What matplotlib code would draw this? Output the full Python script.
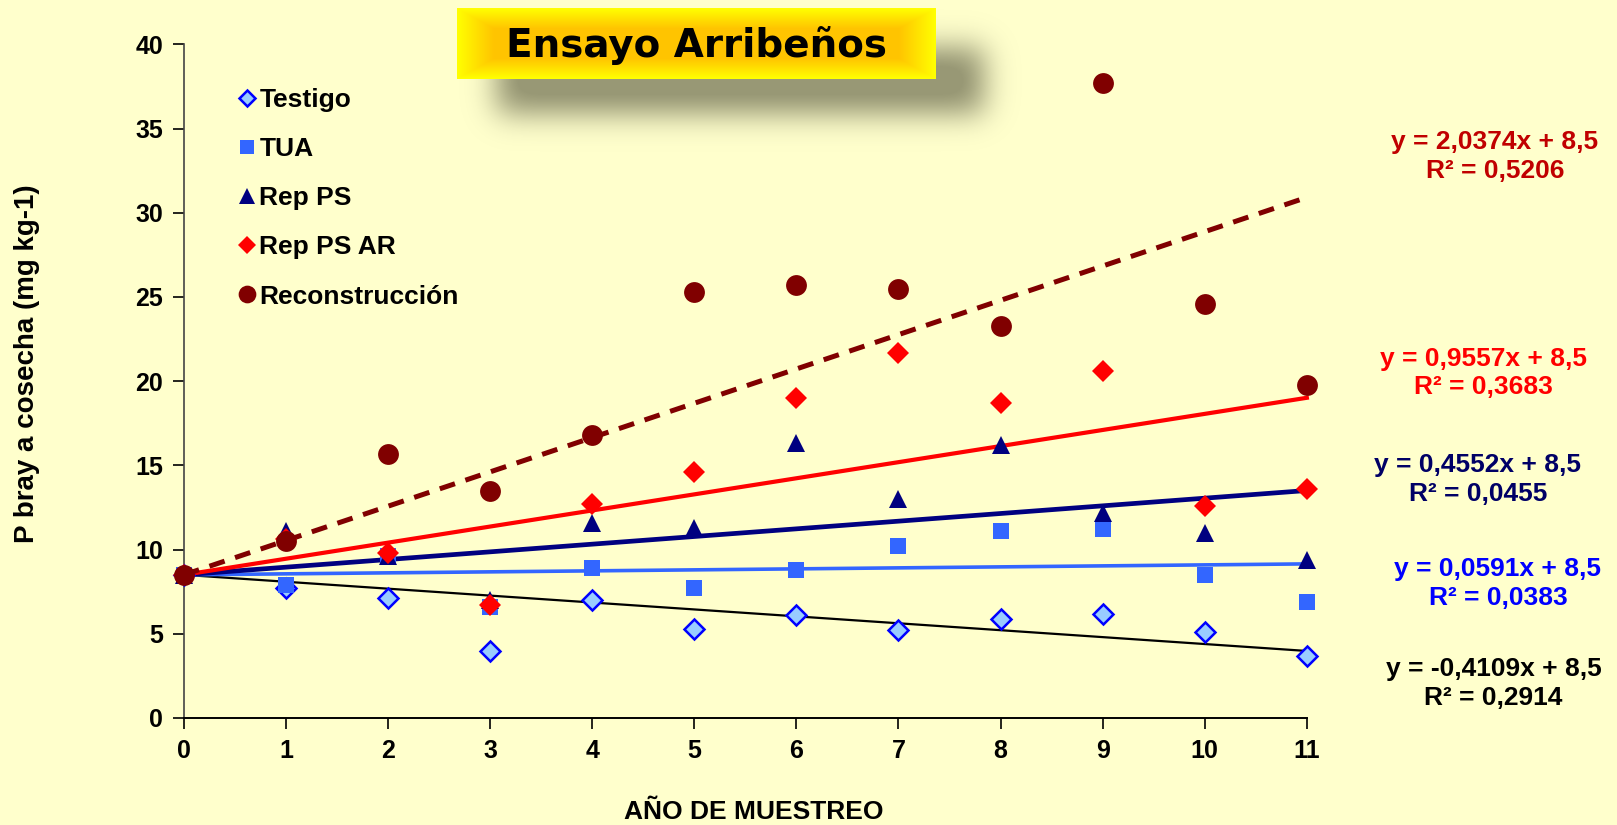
import numpy as np
import matplotlib
matplotlib.use("Agg")
import matplotlib.pyplot as plt
from matplotlib.lines import Line2D

plt.rcParams['font.family'] = ['Liberation Sans', 'DejaVu Sans']
plt.rcParams['font.weight'] = 'bold'

BG = '#FFFFCC'

# años de muestreo
anios = list(range(12))

# P bray a cosecha (mg kg-1) por tratamiento
testigo = [8.5, 7.7, 7.1, 4.0, 7.0, 5.3, 6.1, 5.2, 5.9, 6.2, 5.1, 3.7]
tua = [8.5, 7.9, 9.6, 6.6, 8.9, 7.7, 8.8, 10.2, 11.1, 11.2, 8.5, 6.9]
rep_ps = [8.5, 11.1, 9.6, 7.0, 11.6, 11.3, 16.3, 13.0, 16.2, 12.2, 11.0, 9.4]
rep_ps_ar = [8.5, 10.6, 9.8, 6.7, 12.7, 14.6, 19.0, 21.7, 18.7, 20.6, 12.6, 13.6]
reconstruccion = [8.5, 10.5, 15.7, 13.5, 16.8, 25.3, 25.7, 25.5, 23.3, 37.7, 24.6, 19.8]

# tendencias lineales (ordenada fija en 8,5)
pendientes = [-0.4109, 0.0591, 0.4552, 0.9557, 2.0374]
r2 = [0.2914, 0.0383, 0.0455, 0.3683, 0.5206]
ordenada = 8.5

nombres = ['Testigo', 'TUA', 'Rep PS', 'Rep PS AR', 'Reconstrucción']
series = [testigo, tua, rep_ps, rep_ps_ar, reconstruccion]

# estilos de cada serie: marcador, tamaño, relleno, borde
marcadores = [('D', 10, '#99CCFF', '#0000FF', 1.8),
              ('s', 12, '#3366FF', '#3366FF', 0),
              ('^', 13, '#000080', '#000080', 0),
              ('D', 11, '#FF0000', '#FF0000', 0),
              ('o', 15, '#800000', '#800000', 0)]
lineas = [('#000000', 1.6, '-'),
          ('#3366FF', 2.6, '-'),
          ('#000080', 3.4, '-'),
          ('#FF0000', 3.0, '-'),
          ('#800000', 3.6, (0, (3.2, 2.2)))]
color_eq = ['#000000', '#0000FF', '#000066', '#FF0000', '#C00000']
pos_eq = [(0.9236, 0.1715), (0.9264, 0.2927), (0.914, 0.4188), (0.9174, 0.548), (0.9245, 0.810)]

fig = plt.figure(figsize=(16.17, 8.25), dpi=100, facecolor=BG)
ax = fig.add_axes([0.1137, 0.1297, 0.6945, 0.8166])
ax.set_facecolor(BG)

x = np.array(anios)
for (c, lw, ls), m in zip(lineas, pendientes):
    ax.plot([x[0], x[-1]], [ordenada, ordenada + m * x[-1]], color=c, lw=lw,
            ls=ls, zorder=2, clip_on=False)

for y, (mk, ms, fc, ec, mew) in zip(series, marcadores):
    ax.plot(x, y, ls='none', marker=mk, ms=ms, mfc=fc, mec=ec, mew=mew,
            zorder=3, clip_on=False)

ax.set_xlim(0, 11)
ax.set_ylim(0, 40)
ax.set_xticks(range(12))
ax.set_yticks(range(0, 41, 5))
ax.tick_params(direction='out', length=8, width=1.2, labelsize=18, pad=7)
ax.spines['top'].set_visible(False)
ax.spines['right'].set_visible(False)
ax.spines['left'].set_color('#444444')
ax.spines['left'].set_linewidth(1.2)
ax.spines['bottom'].set_linewidth(1.4)
for t in ax.get_xticklabels() + ax.get_yticklabels():
    t.set_fontweight('bold')

fig.text(0.466, 0.016, 'AÑO DE MUESTREO', ha='center', va='center', fontsize=19, fontweight='bold')
fig.text(0.017, 0.559, 'P bray a cosecha (mg kg-1)', ha='center', va='center',
         rotation=90, fontsize=20, fontweight='bold')

# leyenda
handles = [Line2D([], [], ls='none', marker=mk, ms=ms * 0.85, mfc=fc, mec=ec, mew=mew)
           for mk, ms, fc, ec, mew in marcadores]
ax.legend(handles, nombres, loc='upper left', bbox_to_anchor=(0.14, 0.909),
          bbox_transform=fig.transFigure, frameon=False, fontsize=19,
          handlelength=0.6, handletextpad=0.15, labelspacing=0.95, borderpad=0)
for t in ax.get_legend().get_texts():
    t.set_fontweight('bold')

# ecuaciones de las tendencias
for m, r, c, (px, py) in zip(pendientes, r2, color_eq, pos_eq):
    eq = f'y = {m:.4f}x + 8,5'.replace('.', ',', 1)
    rr = f'R² = {r:.4f}'.replace('.', ',')
    fig.text(px, py, eq + '\n' + rr, ha='center', va='center', color=c,
             fontsize=19, fontweight='bold', linespacing=1.25)

# recuadro del título con sombra difusa
W, H = 1617, 825
x0, x1, y0, y1 = 457, 935, 8, 79
sh = np.zeros((H, W))
sh[y0 + 40:y1 + 34, x0 + 40:x1 + 48] = 1.0
k = np.exp(-0.5 * (np.arange(-45, 46) / 15.0) ** 2)
k /= k.sum()
sh = np.apply_along_axis(lambda v: np.convolve(v, k, mode='same'), 0, sh)
sh = np.apply_along_axis(lambda v: np.convolve(v, k, mode='same'), 1, sh)
rgba = np.zeros((H, W, 4))
rgba[..., :3] = np.array([0.55, 0.55, 0.42])
rgba[..., 3] = np.clip(sh * 1.0, 0, 0.9)
axs = fig.add_axes([0, 0, 1, 1], zorder=4)
axs.imshow(rgba, extent=(0, W, H, 0), aspect='auto', interpolation='bilinear')
axs.set_xlim(0, W)
axs.set_ylim(H, 0)
axs.axis('off')

bw, bh = x1 - x0, y1 - y0
yy, xx = np.mgrid[0:bh, 0:bw]
d = np.minimum(np.minimum(xx, bw - 1 - xx) * 0.55, np.minimum(yy, bh - 1 - yy))
t = np.clip(d / 20.0, 0, 1)
amarillo = np.array([1.0, 1.0, 0.0])
oro = np.array([1.0, 0.77, 0.0])
box = amarillo[None, None, :] * (1 - t[..., None]) + oro[None, None, :] * t[..., None]
axs.imshow(box, extent=(x0, x1, y1, y0), aspect='auto', interpolation='bilinear', zorder=5)
axs.text((x0 + x1) / 2, (y0 + y1) / 2 + 2, 'Ensayo Arribeños', ha='center', va='center',
         fontsize=28, fontweight='bold', family=['DejaVu Sans'], zorder=6)

fig.savefig('out.png', dpi=100, facecolor=BG)
